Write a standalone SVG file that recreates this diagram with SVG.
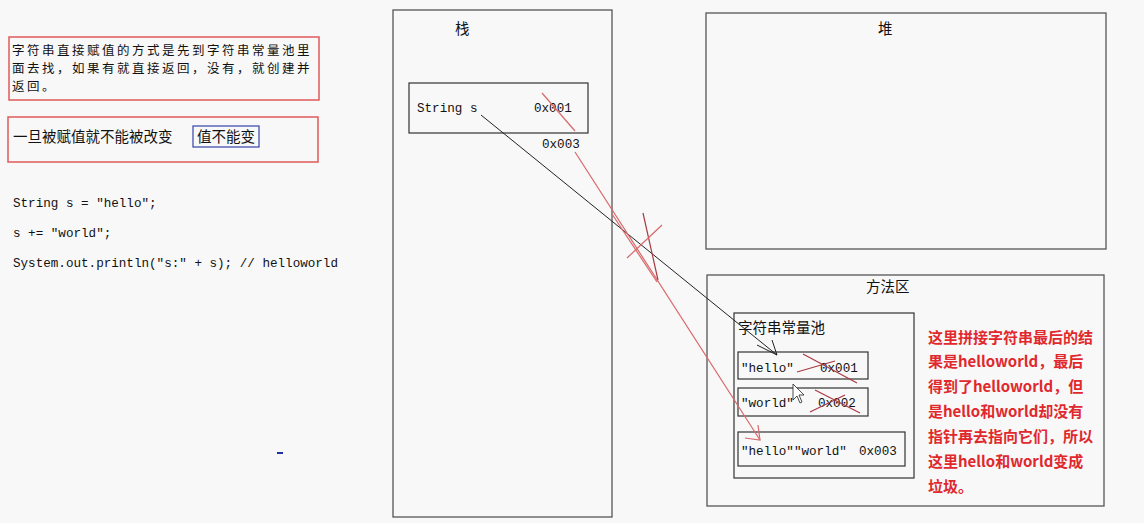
<svg xmlns="http://www.w3.org/2000/svg" width="1144" height="523" viewBox="0 0 1144 523">
<defs>
<style>
.cjk{font-family:"Noto Sans CJK SC","Noto Sans",sans-serif;font-size:14.5px;fill:#111}
.cjs{font-family:"Noto Sans CJK SC","Noto Sans",sans-serif;font-size:12.5px;letter-spacing:2.5px;fill:#111}
.mono{font-family:"Liberation Mono","DejaVu Sans Mono",monospace;font-size:12.6px;fill:#111}
.area{fill:none;stroke:#555;stroke-width:1.3}
.box{fill:none;stroke:#333;stroke-width:1.2}
.note{fill:none;stroke:#e05a5a;stroke-width:1.5}
.red{font-family:"Noto Sans CJK SC","Noto Sans",sans-serif;font-size:15px;font-weight:bold;fill:#e0282d}
.rl{stroke:#d9686b;stroke-width:1.2;fill:none}
.rd{stroke:#a83a45;stroke-width:1.2;fill:none}
</style>
</defs>
<rect width="1144" height="523" fill="#f8f8f8"/>

<g id="note1">
<rect class="note" x="9" y="37" width="310" height="63"/>
<text class="cjs" x="12" y="55">字符串直接赋值的方式是先到字符串常量池里</text>
<text class="cjs" x="12" y="73">面去找，如果有就直接返回，没有，就创建并</text>
<text class="cjs" x="12" y="91">返回。</text>
</g>
<g id="note2">
<rect class="note" x="8" y="117" width="310" height="45"/>
<text class="cjk" x="13" y="142">一旦被赋值就不能被改变</text>
<rect x="193" y="126" width="66" height="21" fill="none" stroke="#3344aa" stroke-width="1.2"/>
<text class="cjk" x="197" y="142">值不能变</text>
</g>
<g id="code">
<text class="mono" x="13" y="207">String s = "hello";</text>
<text class="mono" x="13" y="237">s += "world";</text>
<text class="mono" x="13" y="267">System.out.println("s:" + s); // helloworld</text>
<rect x="277" y="452" width="6" height="2" fill="#2233aa"/>
</g>

<g id="stack">
<rect class="area" x="393" y="10" width="219" height="507"/>
<text class="cjk" x="455" y="34">栈</text>
</g>
<g id="var-s">
<rect class="box" x="409" y="83" width="179" height="50"/>
<text class="mono" x="417" y="112">String s</text>
<text class="mono" x="534" y="112">0x001</text>
<text class="mono" x="542" y="148">0x003</text>
</g>
<g id="heap">
<rect class="area" x="706" y="13" width="400" height="236"/>
<text class="cjk" x="878" y="34">堆</text>
</g>
<g id="method-area">
<rect class="area" x="707" y="275" width="397" height="231"/>
<text class="cjk" x="866" y="292">方法区</text>
</g>
<g id="string-pool">
<rect class="box" x="734" y="313" width="180" height="165"/>
<text class="cjk" x="738" y="333">字符串常量池</text>
</g>
<g id="hello">
<rect class="box" x="738" y="352" width="130" height="27"/>
<text class="mono" x="741" y="372">"hello"</text>
<text class="mono" x="820" y="372">0x001</text>
</g>
<g id="world">
<rect class="box" x="738" y="388" width="130" height="28"/>
<text class="mono" x="741" y="407">"world"</text>
<text class="mono" x="818" y="407">0x002</text>
</g>
<g id="helloworld">
<rect class="box" x="738" y="432" width="167" height="34"/>
<text class="mono" x="741" y="455">"hello""world"</text>
<text class="mono" x="859" y="455">0x003</text>
</g>
<g id="explain">
<text class="red" x="928" y="343">这里拼接字符串最后的结</text>
<text class="red" x="928" y="367">果是helloworld，最后</text>
<text class="red" x="928" y="392">得到了helloworld，但</text>
<text class="red" x="928" y="417">是hello和world却没有</text>
<text class="red" x="928" y="442">指针再去指向它们，所以</text>
<text class="red" x="928" y="467">这里hello和world变成</text>
<text class="red" x="928" y="492">垃圾。</text>
</g>

<g id="connectors">
<path d="M481 115 L777 355" stroke="#222" stroke-width="1" fill="none"/>
<path d="M757 345 L777 355 L772 340" stroke="#222" stroke-width="1" fill="none"/>
<path class="rl" d="M542 93 L575 131"/>
<path class="rl" d="M575 152 L760 440"/>
<path class="rl" d="M745 438 L760 440 L758 425"/>
<path class="rl" d="M612 214 L657 282"/>
<path class="rd" d="M643 213 L658 280"/>
<path class="rl" d="M662 225 L627 258"/>
<path class="rd" d="M803 354 L857 383"/>
<path class="rd" d="M797 372 L835 361"/>
<path class="rd" d="M815 390 L860 413"/>
<path class="rd" d="M810 412 L845 395"/>
<path d="M793 384 L793 400 L797 396 L800 403 L802 402 L799 395 L804 395 Z" fill="#fff" stroke="#222" stroke-width="0.8"/>
</g>
</svg>
